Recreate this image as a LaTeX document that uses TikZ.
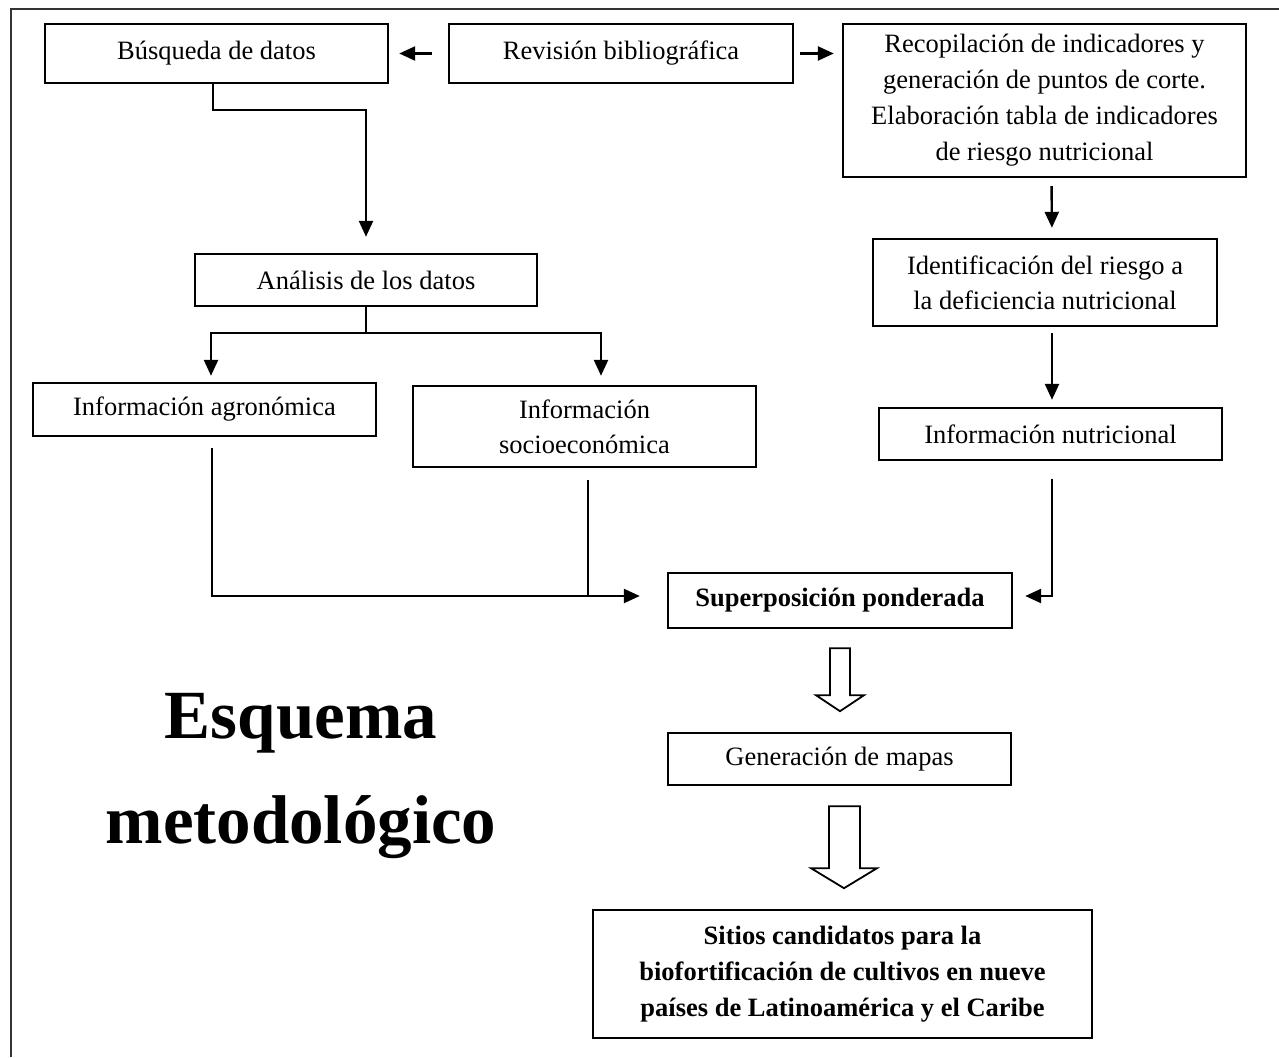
\documentclass[tikz,border=0pt]{standalone}
\usepackage{fontspec}
\setmainfont{Liberation Serif}
\usepackage{tikz}
\usetikzlibrary{positioning,arrows.meta}

\begin{document}
\begin{tikzpicture}[x=1pt,y=-1pt,
box/.style={draw,rectangle,line width=2.4pt,minimum width=343pt,inner sep=0pt,align=center,
    font=\fontsize{26.5}{36}\selectfont},
arr/.style={line width=2.4pt,-{Triangle[length=16pt,width=14pt]}},
hollow/.style={draw,line width=1.8pt,line join=miter,fill=white},
frame/.style={draw=black!80,line width=2.2pt}]
\useasboundingbox (0,0) rectangle (1279,1057);
\draw[frame] (1279,9) -- (11,9) -- (11,1057);
% upper row
\node (busq) [box,minimum height=59pt] at (216.5,53.5) {Búsqueda de datos};
\node (revis) [box,minimum width=344pt,minimum height=59pt] at (621,53.5) {Revisión bibliográfica};
\node (recop) [box,minimum width=403pt,minimum height=153pt] at (1044.5,100.5)
    {Recopilación de indicadores y\\generación de puntos de corte.\\Elaboración tabla de indicadores\\de riesgo nutricional};
% left branch
\node (anal) [box,minimum width=342pt,minimum height=52pt] at (366,280) {Análisis de los datos};
\node (agro) [box,minimum height=53pt] at (204.5,409.5) {Información agronómica};
\node (socio) [box,minimum height=81pt,font=\fontsize{26.5}{35}\selectfont] at (584.5,426.5)
    {Información\\socioeconómica};
% right branch
\node (ident) [box,minimum width=344pt,minimum height=87pt,font=\fontsize{26.5}{35}\selectfont] at (1045,282.5)
    {Identificación del riesgo a\\la deficiencia nutricional};
\node (nutri) [box,minimum height=52pt] at (1050.5,434) {Información nutricional};
% lower part
\node (super) [box,minimum width=344pt,minimum height=55pt,font=\fontsize{26.5}{36}\selectfont\bfseries]
    at (840,600.5) {Superposición ponderada};
\node (mapas) [box,minimum height=52pt] at (839.5,759) {Generación de mapas};
\node (sitios) [box,minimum width=499pt,minimum height=128pt,font=\fontsize{26.5}{36}\selectfont\bfseries]
    at (842.5,974) {Sitios candidatos para la\\biofortificación de cultivos en nueve\\países de Latinoamérica y el Caribe};
\node (titulo) [anchor=north,inner sep=0pt,align=center,font=\fontsize{69}{105}\selectfont\bfseries]
    at (301,693) {Esquema\\metodológico};

\draw[arr,shorten <=16pt,shorten >=10pt] (revis.west) -- (busq.east);
\draw[arr,shorten <=6pt,shorten >=8pt] (revis.east) -- (revis.east -| recop.west);
\draw[arr,shorten >=16pt] ([xshift=-3.5pt]busq.south) -- ++(0,26) -| (anal.north);
\draw[arr,shorten >=6pt] (anal.south) -- ++(0,26) -| ([xshift=6.5pt]agro.north);
\draw[arr,shorten >=9pt] (anal.south) -- ++(0,26) -| ([xshift=16.5pt]socio.north);
\draw[arr,shorten <=8pt,shorten >=10pt] ([xshift=7pt]recop.south) -- ([xshift=7pt]ident.north);
\draw[arr,shorten <=6pt,shorten >=7pt] ([xshift=7pt]ident.south) -- ([xshift=1.5pt]nutri.north);
\coordinate (entrada) at ([yshift=4.5pt]super.west);
\coordinate (salida) at ([yshift=4.5pt]super.east);
\coordinate (bajo) at ([xshift=3.5pt]socio.south);
\coordinate (junta) at (bajo |- entrada);
\draw[arr,shorten <=11pt,shorten >=27pt] ([xshift=7.5pt]agro.south) |- (entrada);
\draw[line width=2.4pt,shorten <=12pt] (bajo) -- (junta);
\draw[arr,shorten <=18pt,shorten >=12pt] ([xshift=1.5pt]nutri.south) |- (salida);
% block arrows
\draw[hollow] ([xshift=-10pt,yshift=-19pt]super.south) -- ++(0,47) -- ++(-14,0) -- ++(24,16)
    -- ++(24,-16) -- ++(-14,0) -- ++(0,-47) -- cycle;
\draw[hollow] ([xshift=-10.5pt,yshift=-20pt]mapas.south) -- ++(0,62) -- ++(-18,0) -- ++(33,20)
    -- ++(33,-20) -- ++(-17,0) -- ++(0,-62) -- cycle;
\end{tikzpicture}
\end{document}
